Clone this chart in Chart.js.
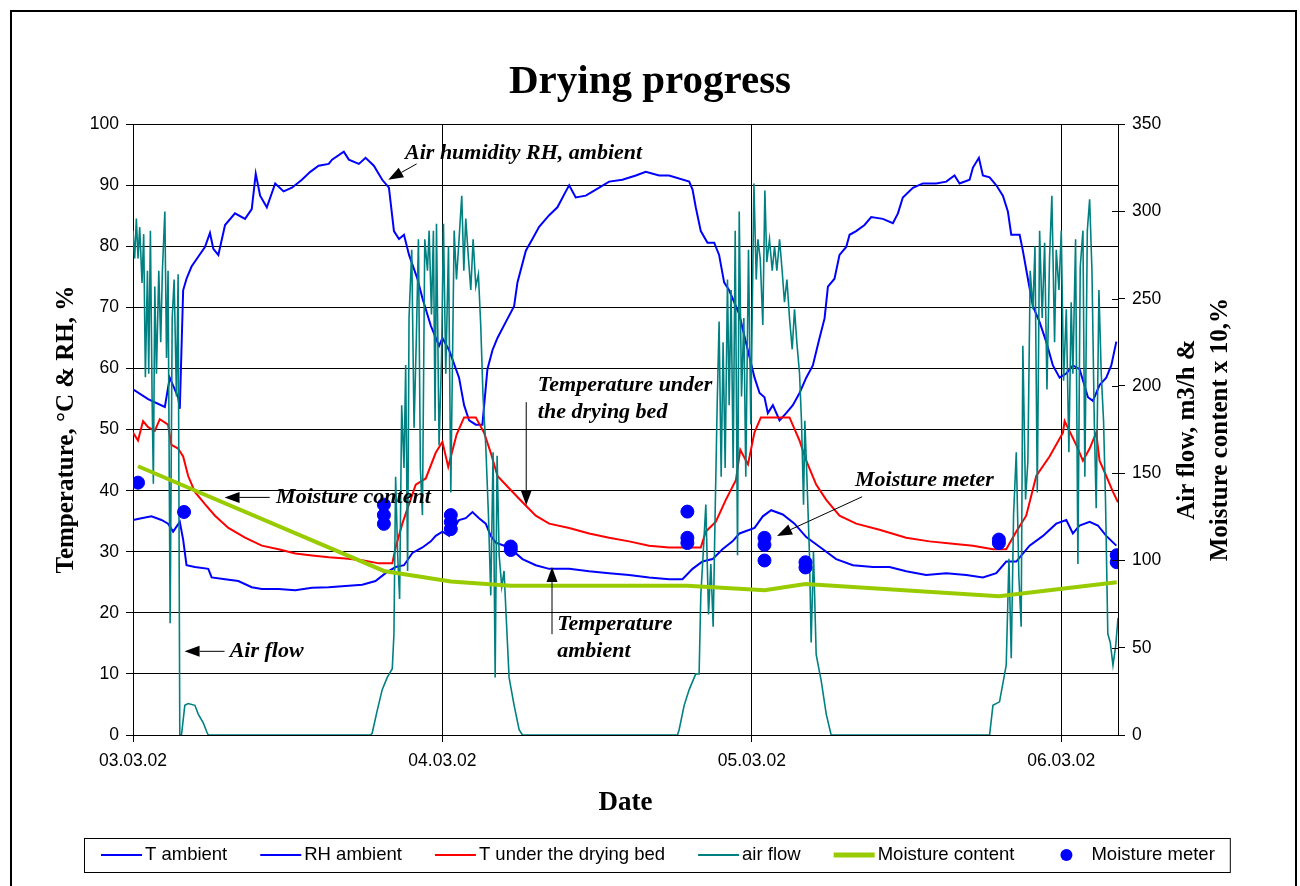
<!DOCTYPE html>
<html>
<head>
<meta charset="utf-8">
<script src="https://cdn.jsdelivr.net/npm/chart.js@4.4.0/dist/chart.umd.min.js"></script>
<style>
html, body { margin: 0; padding: 0; background: #fff; overflow: hidden; }
#wrap { position: absolute; left: 0; top: 0; width: 1300px; height: 886px; }
#frame { position: absolute; left: 10px; top: 10px; width: 1287px; height: 900px; border: 2px solid #000; box-sizing: border-box; }
</style>
</head>
<body>
<div id="wrap"><canvas id="myChart" width="1300" height="886"></canvas></div>
<div id="frame"></div>
<script>
// x values are hours after 03.03.02 00:00
const dateLabels = ['03.03.02', '04.03.02', '05.03.02', '06.03.02'];

const rhHours = [0, 1.17, 2.47, 2.85, 3.5, 3.63, 3.89, 4.15, 4.54, 5.06, 5.58, 5.97, 6.23, 6.62, 7.14, 7.91, 8.69, 9.21, 9.52, 9.86, 10.38, 11.03, 11.68, 12.33, 13.1, 13.75, 14.4, 15.18, 15.44, 16.35, 16.74, 17.52, 18.04, 18.68, 19.33, 19.85, 20.24, 20.63, 21.02, 21.41, 22.06, 22.45, 23.1, 23.74, 24, 24.52, 25.29, 25.68, 26.07, 26.59, 27.1, 27.49, 27.88, 28.27, 28.91, 29.56, 29.82, 30.47, 30.98, 31.5, 32.28, 32.92, 33.57, 33.83, 34.34, 35.12, 35.9, 36.93, 37.96, 39, 39.77, 40.81, 41.58, 43.14, 43.4, 43.65, 44.04, 44.56, 45.08, 45.46, 45.85, 46.24, 47.02, 47.53, 48.21, 48.6, 48.98, 49.24, 49.63, 50.15, 50.66, 51.18, 51.7, 52.22, 52.73, 53.25, 53.64, 53.9, 54.41, 54.8, 55.32, 55.58, 56.09, 56.74, 57.26, 58.16, 58.94, 59.33, 59.71, 60.49, 61.27, 62.3, 63.08, 63.72, 64.11, 64.89, 65.15, 65.61, 65.92, 66.44, 66.96, 67.47, 67.86, 68.12, 68.77, 69.02, 69.41, 69.8, 70.32, 70.83, 71.35, 71.87, 72.39, 72.9, 73.42, 74.07, 74.45, 74.97, 75.49, 75.88, 76.27];
const rhValues = [56.6, 55, 53.7, 58.5, 55.3, 53.4, 72.8, 74.7, 76.7, 78.3, 79.9, 82.2, 79.6, 78.6, 83.5, 85.4, 84.5, 86.1, 91.9, 88.3, 86.4, 90.3, 89, 89.6, 90.9, 92.2, 93.2, 93.5, 94.2, 95.5, 94.2, 93.5, 94.5, 93.2, 90.9, 89.6, 82.5, 81.2, 81.9, 78.6, 74.7, 71.5, 67, 63.7, 65, 63, 58.5, 54, 51.5, 50.8, 50.8, 59.9, 63, 65, 67.6, 70.2, 74.1, 79.3, 81.2, 83.2, 85.1, 86.4, 89, 90, 88, 88.3, 89.3, 90.6, 90.9, 91.6, 92.2, 91.6, 91.6, 90.6, 89.3, 86.4, 82.5, 80.6, 80.6, 78.6, 74.1, 72.8, 68.9, 64.4, 58.5, 56, 55.3, 52.7, 54, 51.5, 52.7, 54, 56, 58.5, 60.5, 65, 68.2, 73.4, 74.7, 78.6, 79.9, 81.9, 82.5, 83.5, 84.8, 84.5, 83.8, 85.4, 88, 89.6, 90.3, 90.3, 90.6, 91.6, 90.3, 90.9, 92.9, 94.5, 91.6, 91.3, 90, 88.3, 85.7, 81.9, 81.9, 79.3, 74.7, 70.2, 67.6, 64.4, 60.5, 58.5, 59.2, 60.5, 59.9, 55.3, 54.7, 57.3, 58.5, 60.5, 64.4];

const tAmbHours = [0, 0.65, 1.43, 2.21, 2.72, 3.11, 3.63, 3.89, 4.15, 4.8, 5.84, 6.1, 7.14, 8.17, 9.21, 9.99, 11.29, 12.59, 13.88, 15.18, 16.48, 17.78, 18.81, 19.59, 20.37, 21.02, 21.67, 22.45, 23.1, 23.48, 24, 24.52, 25.29, 25.81, 26.33, 26.84, 27.36, 27.75, 28.14, 29.17, 30.21, 31.24, 32.28, 33.83, 35.38, 36.93, 38.48, 40.03, 41.58, 42.62, 43.4, 44.17, 44.95, 45.72, 46.5, 47.04, 48.21, 48.85, 49.5, 50.4, 51.31, 52.22, 53.51, 54.54, 55.84, 57.39, 58.68, 59.97, 61.52, 63.08, 64.63, 65.92, 66.96, 67.73, 68.51, 69.54, 70.58, 71.61, 72.39, 72.9, 73.42, 74.2, 74.84, 75.49, 76.27];
const tAmbValues = [35.2, 35.5, 35.8, 35.2, 34.6, 33.3, 34.9, 32, 27.8, 27.5, 27.2, 25.8, 25.5, 25.2, 24.2, 23.9, 23.9, 23.7, 24.1, 24.2, 24.4, 24.6, 25.2, 26.5, 27.5, 27.8, 29.8, 30.7, 31.7, 32.6, 33.3, 32.6, 35.2, 35.5, 36.5, 35.5, 34.6, 32.6, 31.5, 30.7, 28.8, 27.8, 27.2, 27.2, 26.8, 26.5, 26.2, 25.8, 25.5, 25.5, 27.2, 28.4, 28.8, 30.4, 31.7, 33, 33.9, 35.8, 36.8, 36.1, 34.6, 32.4, 30.4, 28.8, 27.8, 27.5, 27.5, 26.8, 26.2, 26.5, 26.2, 25.8, 26.5, 28.4, 28.4, 31, 32.6, 34.6, 35.2, 33, 34.3, 34.9, 34.3, 32.6, 31];

const bedHours = [0, 0.39, 0.78, 1.17, 1.69, 2.08, 2.72, 2.98, 3.5, 3.89, 4.28, 4.8, 5.58, 6.36, 7.4, 8.69, 9.99, 11.29, 12.59, 13.88, 15.18, 16.48, 17.78, 19.07, 20.11, 20.37, 20.89, 21.41, 21.93, 22.71, 23.48, 24, 24.45, 25.1, 25.68, 26.59, 27.23, 27.75, 28.27, 29.17, 30.21, 31.24, 32.28, 33.83, 35.38, 36.93, 38.48, 40.03, 41.58, 42.62, 44.04, 44.43, 45.2, 45.98, 46.76, 47.1, 47.7, 48.2, 48.7, 49.63, 50.92, 51.7, 52.22, 52.99, 53.77, 54.8, 56.09, 57.9, 59.97, 61.78, 63.59, 65.15, 66.7, 67.73, 68.51, 69.28, 70.06, 71.09, 72.13, 72.26, 73.16, 73.68, 74.2, 74.71, 74.97, 75.49, 76.01, 76.4];
const bedValues = [49.5, 48.2, 51.4, 50.4, 49.8, 51.7, 50.8, 47.5, 46.9, 45.6, 42.4, 39.8, 37.8, 35.9, 33.9, 32.3, 31, 30.4, 29.7, 29.4, 29.1, 28.9, 28.6, 28.1, 28.1, 30.7, 34.6, 37.8, 41, 42, 46.2, 48, 43.9, 49.2, 52, 52, 49.5, 46.2, 42.4, 40.4, 38.1, 35.9, 34.6, 33.9, 33, 32.3, 31.7, 31, 30.7, 30.7, 30.7, 33.3, 34.9, 38.5, 41.7, 46.7, 44.3, 49.5, 52, 52, 52, 48.2, 44.9, 41, 38.5, 35.9, 34.6, 33.6, 32.3, 31.7, 31.3, 31, 30.4, 30.4, 33.3, 35.9, 42.4, 45.6, 49.5, 51.4, 47.5, 44.9, 46.9, 49.5, 44.9, 42.4, 39.8, 38.1];

const flowHours = [0, 0.13, 0.26, 0.39, 0.52, 0.7, 0.83, 0.96, 1.12, 1.22, 1.35, 1.48, 1.58, 1.69, 1.82, 2.0, 2.15, 2.28, 2.47, 2.6, 2.72, 2.88, 3.04, 3.19, 3.37, 3.5, 3.63, 3.76, 4.02, 4.28, 4.8, 5.06, 5.45, 5.71, 5.84,
  18.42, 18.55, 18.94, 19.33, 19.72, 20.11, 20.24, 20.37, 20.53, 20.68, 20.84, 21.02, 21.15, 21.3, 21.41, 21.62, 21.8, 21.98, 22.14, 22.29, 22.45, 22.63, 22.84, 22.97, 23.15, 23.3, 23.43, 23.54, 23.74, 23.93, 24.08, 24.26, 24.47, 24.65, 24.91, 25.09, 25.29, 25.5, 25.66, 25.81, 26.02, 26.2, 26.38, 26.59, 26.79, 26.97, 27.15, 27.36, 27.57, 27.75, 27.93, 28.09, 28.24, 28.4, 28.6, 28.78, 28.97, 29.17, 29.56, 29.95, 30.21,
  42.23, 42.36, 42.75, 43.14, 43.65, 43.91, 44.04, 44.22, 44.43, 44.64, 44.82, 45.0, 45.15, 45.31, 45.46, 45.62, 45.77, 45.93, 46.11, 46.24, 46.39, 46.55, 46.71, 46.89, 47.02, 47.2, 47.38, 47.53, 47.74, 47.92, 48.16, 48.34, 48.47, 48.65, 48.85, 49.01, 49.16, 49.37, 49.58, 49.76, 49.94, 50.15, 50.35, 50.53, 50.72, 50.92, 51.13, 51.31, 51.49, 51.7, 51.85, 52.01, 52.11, 52.27, 52.47, 52.6, 52.78, 52.99, 53.38, 53.77, 54.15,
  66.44, 66.7, 67.21, 67.73, 67.94, 68.12, 68.3, 68.51, 68.71, 68.89, 69.02, 69.23, 69.41, 69.59, 69.8, 69.96, 70.14, 70.32, 70.52, 70.71, 70.89, 71.09, 71.27, 71.48, 71.61, 71.82, 72.0, 72.18, 72.39, 72.59, 72.77, 72.9, 73.11, 73.29, 73.47, 73.68, 73.83, 74.02, 74.2, 74.38, 74.56, 74.71, 74.92, 75.1, 75.28, 75.43, 75.61, 75.8, 76.01, 76.22, 76.4];
const flowValues = [289, 273, 296, 273, 291, 259, 287, 205, 266, 207, 289, 194, 144, 257, 207, 266, 225, 266, 300, 216, 266, 64, 239, 261, 194, 264, 0, 0, 17, 18, 17, 12, 7, 2, 0,
  0, 1, 14, 26, 33, 38, 58, 148, 103, 78, 189, 153, 212, 94, 239, 278, 176, 228, 284, 153, 126, 284, 266, 289, 241, 289, 180, 293, 166, 216, 293, 207, 280, 139, 289, 261, 284, 309, 266, 296, 273, 255, 284, 257, 264, 235, 194, 166, 126, 80, 162, 33, 160, 103, 85, 94, 64, 33, 17, 3, 0,
  0, 3, 17, 26, 35, 35, 80, 103, 132, 69, 98, 62, 126, 189, 237, 148, 225, 153, 261, 189, 255, 153, 289, 103, 300, 194, 239, 148, 278, 178, 316, 261, 284, 273, 235, 312, 271, 284, 266, 280, 266, 284, 266, 248, 261, 239, 221, 244, 225, 207, 180, 132, 180, 148, 103, 53, 105, 46, 31, 12, 0,
  0, 17, 19, 40, 101, 44, 126, 162, 91, 62, 223, 135, 157, 266, 244, 280, 139, 289, 239, 282, 198, 273, 309, 225, 278, 255, 289, 203, 244, 162, 248, 207, 284, 98, 268, 289, 148, 289, 307, 266, 180, 130, 255, 207, 180, 135, 58, 53, 40, 51, 67];

// moisture content x 10 (right axis)
const mcHours = [0.39, 19.46, 24.65, 29.3, 43.0, 48.98, 52.16, 67.16, 76.3];
const mcValues = [154, 94, 88, 85.5, 85.5, 83, 86.5, 79.5, 87.5];

const meterHours = [0.39, 3.96, 19.46, 19.46, 19.46, 24.65, 24.65, 24.65, 29.3, 29.3, 43.0, 43.0, 43.0, 48.98, 48.98, 48.98, 52.16, 52.16, 67.16, 67.16, 76.3, 76.3];
const meterValues = [144.6, 127.8, 132, 126, 121, 126, 122, 118, 108, 106, 128, 113, 110, 113, 109, 100, 99, 96, 112, 110, 103, 99];

// text notes with arrows, in (hour, left axis value)
const notes = [
  { lines: ['Air humidity RH, ambient'], at: [21.1, 95.3], from: [22.0, 93.5], to: [19.8, 90.9] },
  { lines: ['Moisture content'], at: [11.1, 38.9], from: [10.6, 38.9], to: [7.1, 38.9] },
  { lines: ['Air flow'], at: [7.5, 13.7], from: [7.1, 13.7], to: [4.0, 13.7] },
  { lines: ['Temperature under', 'the drying bed'], at: [31.4, 57.3], from: [30.5, 54.5], to: [30.5, 37.6] },
  { lines: ['Temperature', 'ambient'], at: [32.9, 18.2], from: [32.5, 16.5], to: [32.5, 27.5] },
  { lines: ['Moisture meter'], at: [56.0, 41.7], from: [56.55, 39.0], to: [49.95, 32.6] }
];

function pairs(xs, ys) {
  return xs.map((x, i) => ({ x: x, y: ys[i] }));
}

function arrow(ctx, x0, y0, x1, y1) {
  const a = Math.atan2(y1 - y0, x1 - x0);
  const len = 15, w = 5.5;
  const bx = x1 - Math.cos(a) * len, by = y1 - Math.sin(a) * len;
  ctx.beginPath();
  ctx.moveTo(x0, y0);
  ctx.lineTo(bx, by);
  ctx.stroke();
  ctx.beginPath();
  ctx.moveTo(x1, y1);
  ctx.lineTo(bx + Math.sin(a) * w, by - Math.cos(a) * w);
  ctx.lineTo(bx - Math.sin(a) * w, by + Math.cos(a) * w);
  ctx.closePath();
  ctx.fill();
}

const extras = {
  id: 'extras',
  afterDraw(chart) {
    const ctx = chart.ctx;
    const xs = chart.scales.x, ys = chart.scales.y, y1 = chart.scales.y1;
    const area = chart.chartArea;
    ctx.save();
    ctx.fillStyle = '#000';
    ctx.strokeStyle = '#000';
    ctx.lineWidth = 1;

    // inner half of right axis ticks
    y1.ticks.forEach(t => {
      const py = Math.round(y1.getPixelForValue(t.value)) + 0.5;
      ctx.beginPath();
      ctx.moveTo(area.right - 6, py);
      ctx.lineTo(area.right, py);
      ctx.stroke();
    });

    // right axis title, reading upwards
    ctx.font = 'bold 25px "Liberation Serif"';
    ctx.textAlign = 'center';
    ctx.textBaseline = 'middle';
    const cy = (area.top + area.bottom) / 2;
    [['Air flow, m3/h &', area.right + 70], ['Moisture content x 10,%', area.right + 103]].forEach(l => {
      ctx.save();
      ctx.translate(l[1], cy);
      ctx.rotate(-Math.PI / 2);
      ctx.fillText(l[0], 0, 0);
      ctx.restore();
    });

    // notes
    ctx.font = 'italic bold 22px "Liberation Serif"';
    ctx.textAlign = 'left';
    notes.forEach(n => {
      const tx = xs.getPixelForValue(n.at[0]), ty = ys.getPixelForValue(n.at[1]);
      n.lines.forEach((s, i) => ctx.fillText(s, tx, ty + i * 27));
      arrow(ctx, xs.getPixelForValue(n.from[0]), ys.getPixelForValue(n.from[1]),
        xs.getPixelForValue(n.to[0]), ys.getPixelForValue(n.to[1]));
    });

    // legend
    ctx.font = '18.5px "Liberation Sans"';
    ctx.textBaseline = 'middle';
    const ly = 855;
    let cx = 101;
    chart.data.datasets.forEach(ds => {
      if (ds.showLine === false) {
        ctx.fillStyle = ds.backgroundColor;
        ctx.beginPath();
        ctx.arc(cx + 19, ly, 6, 0, Math.PI * 2);
        ctx.fill();
      } else {
        ctx.strokeStyle = ds.borderColor;
        ctx.lineWidth = ds.borderWidth > 2 ? 5 : 2;
        ctx.beginPath();
        ctx.moveTo(cx, ly);
        ctx.lineTo(cx + 41, ly);
        ctx.stroke();
      }
      ctx.fillStyle = '#000';
      ctx.fillText(ds.label, cx + 44, ly);
      cx += 44 + ctx.measureText(ds.label).width + 33;
    });
    ctx.strokeStyle = '#000';
    ctx.lineWidth = 1;
    ctx.strokeRect(84.5, 838.5, cx - 33 + 15 - 84, 34);
    ctx.restore();
  }
};

const tickFont = { family: 'Liberation Sans', size: 17.5 };

new Chart('myChart', {
  type: 'line',
  data: {
    datasets: [
      { label: 'T ambient', data: pairs(tAmbHours, tAmbValues), yAxisID: 'y', borderColor: '#0000ff', backgroundColor: '#0000ff', borderWidth: 2, order: 4 },
      { label: 'RH ambient', data: pairs(rhHours, rhValues), yAxisID: 'y', borderColor: '#0000ff', backgroundColor: '#0000ff', borderWidth: 2, order: 5 },
      { label: 'T under the drying bed', data: pairs(bedHours, bedValues), yAxisID: 'y', borderColor: '#ff0000', backgroundColor: '#ff0000', borderWidth: 2, order: 3 },
      { label: 'air flow', data: pairs(flowHours, flowValues), yAxisID: 'y1', borderColor: '#008080', backgroundColor: '#008080', borderWidth: 1.6, order: 2 },
      { label: 'Moisture content', data: pairs(mcHours, mcValues), yAxisID: 'y1', borderColor: '#99cc00', backgroundColor: '#99cc00', borderWidth: 4, order: 1 },
      { label: 'Moisture meter', data: pairs(meterHours, meterValues), yAxisID: 'y1', showLine: false, borderColor: '#0000ff', backgroundColor: '#0000ff', pointRadius: 6.5, pointBackgroundColor: '#0000ff', order: 0 }
    ]
  },
  options: {
    responsive: false,
    animation: false,
    elements: { line: { tension: 0 }, point: { radius: 0 } },
    layout: { padding: { top: 58, left: 0, right: 0, bottom: 60 } },
    plugins: {
      legend: { display: false },
      tooltip: { enabled: false },
      title: {
        display: true,
        text: 'Drying progress',
        color: '#000',
        font: { family: 'Liberation Serif', size: 41, weight: 'bold' },
        padding: { top: 0, bottom: 17 }
      }
    },
    scales: {
      x: {
        type: 'linear',
        min: 0,
        max: 76.4,
        afterFit: s => { s.height = 91; },
        ticks: {
          stepSize: 24,
          includeBounds: false,
          autoSkip: false,
          maxRotation: 0,
          color: '#000',
          font: tickFont,
          padding: 9,
          callback: v => dateLabels[Math.round(v / 24)] || ''
        },
        grid: { color: '#000', lineWidth: 1, tickLength: 7 },
        border: { color: '#000', width: 1 },
        title: {
          display: true,
          text: 'Date',
          color: '#000',
          font: { family: 'Liberation Serif', size: 27, weight: 'bold' },
          padding: { top: 0, bottom: 7 }
        }
      },
      y: {
        position: 'left',
        min: 0,
        max: 100,
        afterFit: s => { s.width = 133; },
        ticks: { stepSize: 10, color: '#000', font: tickFont, padding: 7 },
        grid: { color: '#000', lineWidth: 1, tickLength: 7 },
        border: { color: '#000', width: 1 },
        title: {
          display: true,
          text: 'Temperature, °C & RH, %',
          color: '#000',
          font: { family: 'Liberation Serif', size: 25, weight: 'bold' },
          padding: { top: 52, bottom: 0 }
        }
      },
      y1: {
        position: 'right',
        min: 0,
        max: 350,
        afterFit: s => { s.width = 182; },
        ticks: { stepSize: 50, color: '#000', font: tickFont, padding: 7 },
        grid: { drawOnChartArea: false, color: '#000', lineWidth: 1, tickLength: 7 },
        border: { color: '#000', width: 1 }
      }
    }
  },
  plugins: [extras]
});
</script>
</body>
</html>
